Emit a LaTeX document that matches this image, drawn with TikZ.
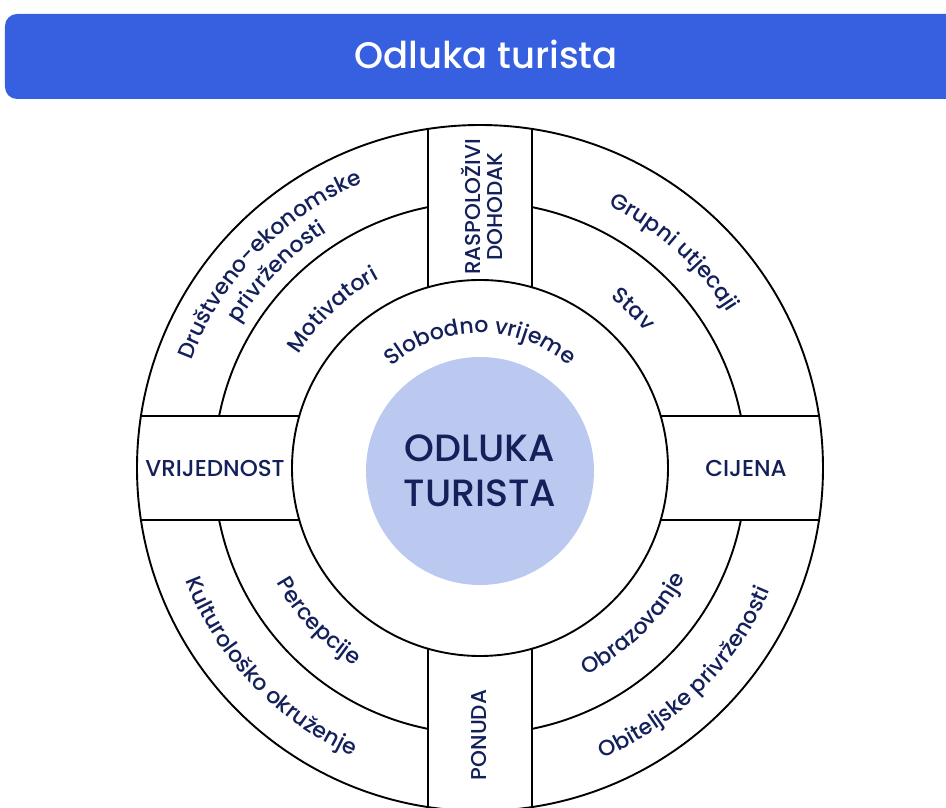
\documentclass[tikz,border=0pt]{standalone}
\usepackage{fontspec}
\setmainfont{Poppins}[UprightFont={* Medium}]
\usetikzlibrary{decorations.text}
\definecolor{titleblue}{RGB}{54,96,224}
\definecolor{navy}{RGB}{20,32,90}
\definecolor{corefill}{RGB}{187,201,240}
\newcommand{\arcfont}{\fontsize{22}{26}\selectfont\color{navy}}
\def\rin{188}
\def\rmid{266}
\def\rout{343}
\def\bw{52}
\tikzstyle{ring}=[draw=black,line width=1.9pt]
\tikzstyle{caps}=[text=navy,font=\fontsize{23}{23}\selectfont,align=center,inner sep=0pt]
\tikzstyle{vcaps}=[caps,rotate=90,font=\fontsize{21.5}{22}\selectfont]
\tikzstyle{arclabel}=[decorate,decoration={text along path,text align=center}]

\begin{document}
\begin{tikzpicture}[x=1pt,y=1pt]
                  \useasboundingbox (-480,-340) rectangle (466,468);

                  \fill[titleblue,rounded corners=12pt] (-475,369) rectangle (490,454);
                  \node (title) at (6,399) [anchor=base,text=white,font=\fontsize{37}{42}\selectfont] {Odluka turista};

                  \draw[ring] (0,0) circle[radius=\rout];
                  \draw[ring] (0,0) circle[radius=\rin];
                  \foreach \a in {0,90,180,270}{
                    \draw[ring] ({\a+asin(\bw/\rin)}:\rin) -- ({\a+asin(\bw/\rout)}:\rout);
                    \draw[ring] ({\a-asin(\bw/\rin)}:\rin) -- ({\a-asin(\bw/\rout)}:\rout);
                    \draw[ring] ({\a+asin(\bw/\rmid)}:\rmid) arc[start angle={\a+asin(\bw/\rmid)},end angle={\a+90-asin(\bw/\rmid)},radius=\rmid];
                  }

                  \node (core) at (0,-3) [circle,fill=corefill,minimum size=228pt,text=navy,align=center,font=\fontsize{38}{45}\selectfont] {ODLUKA\\TURISTA};

                  \node (vrijednost) at (-265,0) [caps] {VRIJEDNOST};
                  \node (cijena) at (266,0) [caps] {CIJENA};
                  \node (dohodak) at (2,261) [vcaps] {RASPOLOŽIVI\\DOHODAK};
                  \node (ponuda) at (-1,-267) [vcaps] {PONUDA};

                  \path[arclabel,decoration={text={|\arcfont|Slobodno vrijeme}}] (140:135) arc[start angle=140,end angle=40,radius=135];
                  \path[arclabel,decoration={text={|\arcfont|Motivatori}}] (178:214) arc[start angle=178,end angle=88,radius=214];
                  \path[arclabel,decoration={text={|\arcfont|Stav}}] (91:214) arc[start angle=91,end angle=1,radius=214];
                  \path[arclabel,decoration={text={|\arcfont|Društveno-ekonomske}}] (186:308) arc[start angle=186,end angle=86,radius=308];
                  \path[arclabel,decoration={text={|\arcfont|privrženosti}}] (181:281) arc[start angle=181,end angle=91,radius=281];
                  \path[arclabel,decoration={text={|\arcfont|Grupni utjecaji}}] (93:292) arc[start angle=93,end angle=3,radius=292];

                  \path[arclabel,decoration={text={|\arcfont|Percepcije}}] (178.5:234) arc[start angle=178.5,end angle=268.5,radius=234];
                  \path[arclabel,decoration={text={|\arcfont|Kulturološko okruženje}}] (173.5:315) arc[start angle=173.5,end angle=273.5,radius=315];
                  \path[arclabel,decoration={text={|\arcfont|Obrazovanje}}] (269.5:233) arc[start angle=269.5,end angle=359.5,radius=233];
                  \path[arclabel,decoration={text={|\arcfont|Obiteljske privrženosti}}] (265:315) arc[start angle=265,end angle=365,radius=315];
              \end{tikzpicture}
\end{document}
